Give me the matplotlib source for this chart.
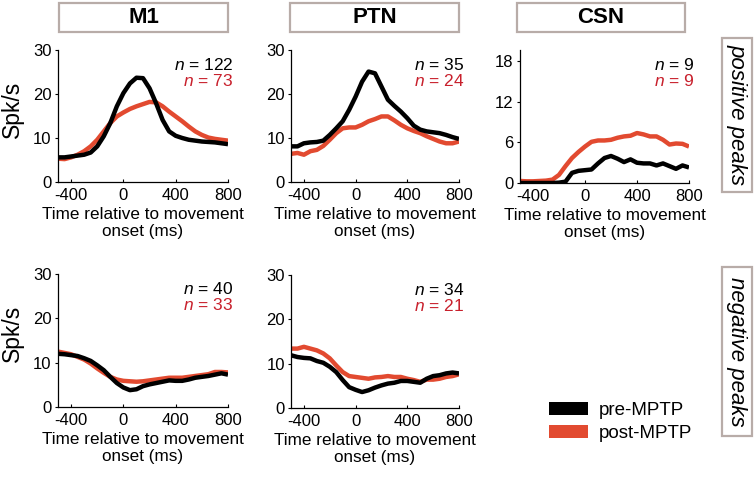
import matplotlib
matplotlib.use("Agg")
import matplotlib.pyplot as plt
from matplotlib.patches import Rectangle, Patch

plt.rcParams['font.family'] = ['Liberation Sans', 'DejaVu Sans']
plt.rcParams['mathtext.fontset'] = 'custom'
plt.rcParams['mathtext.rm'] = 'Liberation Sans'
plt.rcParams['mathtext.it'] = 'Liberation Sans:italic'
plt.rcParams['axes.unicode_minus'] = False

# ---------------- data ----------------
time_ms = [-500, -450, -400, -350, -300, -250, -200, -150, -100, -50, 0, 50, 100, 150,
           200, 250, 300, 350, 400, 450, 500, 550, 600, 650, 700, 750, 800]

m1_pos_pre = [5.6, 5.6, 5.8, 6.0, 6.2, 6.7, 8.1, 10.4, 13.4, 17.2, 20.2, 22.4, 23.7, 23.6,
              21.3, 17.9, 14.1, 11.5, 10.5, 10.0, 9.6, 9.4, 9.2, 9.1, 9.0, 8.8, 8.6]
m1_pos_post = [5.3, 5.2, 5.6, 6.2, 7.0, 8.1, 9.6, 11.5, 13.4, 14.9, 15.8, 16.6, 17.2, 17.7,
               18.2, 18.1, 17.2, 16.0, 14.9, 13.8, 12.6, 11.5, 10.7, 10.1, 9.8, 9.6, 9.4]

ptn_pos_pre = [8.1, 8.1, 8.8, 9.0, 9.1, 9.4, 10.7, 12.2, 13.8, 16.4, 19.4, 22.8, 25.1, 24.7,
               21.7, 18.7, 17.3, 16.0, 14.5, 12.8, 11.9, 11.5, 11.3, 11.1, 10.7, 10.2, 9.8]
ptn_pos_post = [6.4, 6.6, 6.2, 7.0, 7.3, 8.2, 9.6, 11.1, 12.2, 12.4, 12.4, 13.0, 13.8, 14.3,
                14.9, 14.9, 14.0, 13.0, 12.2, 11.6, 11.1, 10.4, 9.8, 9.2, 8.8, 8.8, 9.2]

csn_pos_pre = [0.0, 0.0, 0.0, 0.0, 0.0, 0.0, 0.05, 0.2, 1.5, 1.8, 1.9, 2.0, 2.9, 3.7,
               4.0, 3.6, 3.1, 3.5, 3.0, 2.9, 2.9, 2.6, 2.9, 2.5, 2.1, 2.6, 2.3]
csn_pos_post = [0.3, 0.25, 0.25, 0.3, 0.35, 0.5, 1.2, 2.5, 3.7, 4.6, 5.4, 6.1, 6.3, 6.3,
                6.4, 6.7, 6.9, 7.0, 7.4, 7.2, 6.9, 6.9, 6.4, 5.7, 5.85, 5.8, 5.4]

m1_neg_pre = [12.0, 11.9, 11.7, 11.5, 11.0, 10.4, 9.4, 8.3, 6.8, 5.4, 4.4, 3.8, 4.0, 4.7,
              5.1, 5.4, 5.7, 6.0, 5.9, 5.9, 6.2, 6.6, 6.8, 7.0, 7.3, 7.6, 7.3]
m1_neg_post = [12.5, 12.2, 11.9, 11.3, 10.7, 9.8, 8.7, 7.7, 6.8, 6.2, 5.9, 5.8, 5.7, 5.8,
               6.0, 6.2, 6.4, 6.6, 6.6, 6.6, 6.8, 7.0, 7.2, 7.4, 7.9, 7.9, 7.8]

ptn_neg_pre = [11.9, 11.5, 11.3, 11.2, 10.6, 10.2, 9.3, 8.1, 6.3, 4.7, 4.1, 3.6, 4.0, 4.6,
               5.1, 5.5, 5.7, 6.1, 6.1, 5.9, 5.7, 6.6, 7.2, 7.4, 7.8, 8.0, 7.8]
ptn_neg_post = [13.4, 13.4, 13.8, 13.4, 13.0, 12.3, 11.2, 9.6, 8.1, 7.2, 7.0, 6.8, 6.6, 6.9,
                7.0, 7.2, 7.0, 7.0, 6.6, 6.3, 5.9, 6.4, 6.4, 6.6, 7.0, 7.2, 7.6]

n_pre = {"M1+": 122, "PTN+": 35, "CSN+": 9, "M1-": 40, "PTN-": 34}
n_post = {"M1+": 73, "PTN+": 24, "CSN+": 9, "M1-": 33, "PTN-": 21}

region_titles = ["M1", "PTN", "CSN"]
row_titles = ["positive peaks", "negative peaks"]
legend_labels = ["pre-MPTP", "post-MPTP"]
x_ticks = [-400, 0, 400, 800]
y_ticks_30 = [0, 10, 20, 30]
y_ticks_csn = [0, 6, 12, 18]

# ---------------- style ----------------
BLACK = "#000000"
RED = "#e24a30"
NRED = "#c8202c"
BOXC = "#b8aca8"
W, H = 755, 478

fig = plt.figure(figsize=(W / 100, H / 100), dpi=100)
fig.patch.set_facecolor("white")


def px_axes(left, right, top, bottom):
    return fig.add_axes([left / W, 1 - bottom / H, (right - left) / W, (bottom - top) / H])


panels = [
    # key, left, right, top, bottom, pre, post, ylim, yticks, ylabel
    ("M1+", 58, 228, 50, 182, m1_pos_pre, m1_pos_post, (0, 30), y_ticks_30, True),
    ("PTN+", 291, 459, 50, 182, ptn_pos_pre, ptn_pos_post, (0, 30), y_ticks_30, False),
    ("CSN+", 520, 689, 50, 183, csn_pos_pre, csn_pos_post, (0, 19.7), y_ticks_csn, False),
    ("M1-", 58, 228, 274, 407, m1_neg_pre, m1_neg_post, (0, 30), y_ticks_30, True),
    ("PTN-", 291, 459, 275, 408, ptn_neg_pre, ptn_neg_post, (0, 30), y_ticks_30, False),
]

for key, l, r, t, b, pre, post, ylim, yt, ylab in panels:
    ax = px_axes(l, r, t, b)
    ax.plot(time_ms, pre, color=BLACK, lw=3.2, solid_capstyle="butt", zorder=3)
    ax.plot(time_ms, post, color=RED, lw=3.2, solid_capstyle="butt", zorder=2)
    ax.set_xlim(-500, 800)
    ax.set_ylim(*ylim)
    ax.set_xticks(x_ticks)
    ax.set_yticks(yt)
    for s in ("top", "right"):
        ax.spines[s].set_visible(False)
    for s in ("left", "bottom"):
        ax.spines[s].set_linewidth(0.9)
    ax.tick_params(axis="x", direction="in", length=2, width=0.8, labelsize=12, pad=4)
    ax.tick_params(axis="y", direction="out", length=2.5, width=0.8, labelsize=12, pad=2)
    ax.set_xlabel("Time relative to movement\nonset (ms)", fontsize=12.3, labelpad=3,
                  linespacing=1.15)
    if ylab:
        ax.set_ylabel("Spk/s", fontsize=16.5)
        ax.yaxis.set_label_coords(-0.2, 0.55)
    ax.text(1.03, 1 - 15 / (b - t), r"$n$ = %d" % n_pre[key], transform=ax.transAxes,
            ha="right", va="center", fontsize=12.5, color=BLACK)
    ax.text(1.03, 1 - 31 / (b - t), r"$n$ = %d" % n_post[key], transform=ax.transAxes,
            ha="right", va="center", fontsize=12.5, color=NRED)

# column header boxes
for title, (x0, x1) in zip(region_titles, [(59, 228), (290, 459), (517, 685)]):
    fig.add_artist(Rectangle((x0 / W, 1 - 32 / H), (x1 - x0) / W, 29 / H,
                             transform=fig.transFigure, facecolor="white",
                             edgecolor=BOXC, lw=1.6))
    fig.text((x0 + x1) / 2 / W, 1 - 17.5 / H, title, ha="center", va="center",
             fontsize=16, fontweight="bold")

# row header boxes
for title, (y0, y1) in zip(row_titles, [(38, 192), (267, 436)]):
    fig.add_artist(Rectangle((722 / W, 1 - y1 / H), 30 / W, (y1 - y0) / H,
                             transform=fig.transFigure, facecolor="white",
                             edgecolor=BOXC, lw=1.6))
    fig.text(737 / W, 1 - (y0 + y1) / 2 / H, title, ha="center", va="center",
             rotation=-90, fontsize=16, fontstyle="italic")

# legend
handles = [Patch(facecolor=BLACK, edgecolor="none"), Patch(facecolor=RED, edgecolor="none")]
fig.legend(handles, legend_labels, loc="center left",
           bbox_to_anchor=(549 / W, 1 - 422 / H), frameon=False, fontsize=13.5,
           handlelength=2.1, handleheight=0.7, handletextpad=0.55, labelspacing=0.3,
           borderpad=0, borderaxespad=0)

fig.savefig("out.png", dpi=100)
